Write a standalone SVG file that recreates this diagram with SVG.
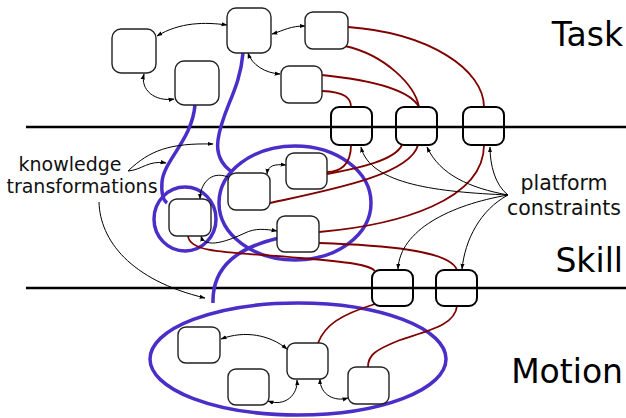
<svg xmlns="http://www.w3.org/2000/svg" width="626" height="418" viewBox="0 0 626 418">
  <defs>
    <marker id="ah" viewBox="0 0 10 10" refX="9" refY="5" markerWidth="6" markerHeight="6" orient="auto-start-reverse" markerUnits="userSpaceOnUse">
      <path d="M0,1.5 L10,5 L0,8.5 Z" fill="#000"/>
    </marker>
  </defs>
  <style>
    .node { fill: #fff; stroke: #222; stroke-width: 1.4; }
    .plat { fill: none; stroke: #000; stroke-width: 2; }
    .level { stroke: #000; stroke-width: 2.5; }
    .dep { fill: none; stroke: #800000; stroke-width: 1.8; }
    .blue { fill: none; stroke: #4b2ec8; stroke-width: 3.5; }
    .link { fill: none; stroke: #000; stroke-width: 1; }
    .both { marker-start: url(#ah); marker-end: url(#ah); }
    .one { marker-end: url(#ah); }
    .lvl { font-family: "DejaVu Sans", sans-serif; font-size: 33px; fill: #000; }
    .note { font-family: "DejaVu Sans", sans-serif; fill: #111; text-anchor: middle; }
  </style>

  <!-- level separators -->
  <g id="levels">
    <line class="level" x1="26" y1="127" x2="626" y2="127"/>
    <line class="level" x1="26" y1="288" x2="626" y2="288"/>
  </g>

  <!-- knowledge transformation regions -->
  <g id="regions">
    <ellipse class="blue" cx="298" cy="359" rx="148" ry="56"/>
    <ellipse class="blue" cx="185" cy="219" rx="31" ry="32"/>
    <ellipse class="blue" cx="295" cy="203" rx="76" ry="57"/>
    <path class="blue" d="M195,105 C192,140 164,160 162,182 C161,195 163,200 167,203"/>
    <path class="blue" d="M243,53 C240,90 222,110 218,140 C216,155 222,165 232,172"/>
    <path class="blue" d="M279,238 C240,247 212,265 213,303"/>
  </g>

  <!-- platform dependencies -->
  <g id="dependencies">
    <path class="dep" d="M348,27 C430,33 484,70 484,107"/>
    <path class="dep" d="M345,46 C385,55 415,85 419,107"/>
    <path class="dep" d="M322,75 C370,80 410,90 419,107"/>
    <path class="dep" d="M322,91 C345,92 351,98 351,107"/>
    <path class="dep" d="M351,145 C351,165 340,172 327,172"/>
    <path class="dep" d="M402,145 C395,160 360,168 327,174"/>
    <path class="dep" d="M418,145 C410,175 330,190 270,203"/>
    <path class="dep" d="M484,145 C484,200 400,225 319,232"/>
    <path class="dep" d="M319,243 C380,245 450,250 457,270"/>
    <path class="dep" d="M188,236 C190,255 240,252 300,258 C350,262 370,265 375,271"/>
    <path class="dep" d="M375,304 C340,315 325,325 318,343"/>
    <path class="dep" d="M457,306 C455,325 430,330 400,340 C375,350 368,355 368,367"/>
  </g>

  <!-- node links and annotation pointers -->
  <g id="connectors">
    <path class="link both" d="M157,36 C180,22 205,22 227,25"/>
    <path class="link both" d="M272,34 C285,30 290,26 305,26"/>
    <path class="link both" d="M144,74 C140,90 155,102 174,99"/>
    <path class="link both" d="M248,53 C252,65 265,73 280,74"/>
    <path class="link both" d="M267,174 C268,165 275,164 286,165"/>
    <path class="link one" d="M228,177 C210,170 200,185 200,199"/>
    <path class="link both" d="M201,236 C205,250 230,240 245,233 C255,228 265,229 277,231"/>
    <path class="link both" d="M221,339 C245,330 270,335 287,349"/>
    <path class="link both" d="M268,401 C285,407 298,395 297,380"/>
    <path class="link both" d="M320,379 C320,395 335,402 348,398"/>

    <path class="link one" d="M128,171 C142,170 148,160 166,163"/>
    <path class="link one" d="M128,171 C150,150 170,143 213,144"/>
    <path class="link one" d="M99,202 C100,240 130,280 205,298"/>

    <path class="link one" d="M508,195 C440,192 370,185 361,147"/>
    <path class="link one" d="M508,195 C470,188 440,175 427,147"/>
    <path class="link one" d="M508,195 C495,185 490,165 490,147"/>
    <path class="link one" d="M508,195 C450,205 400,230 398,269"/>
    <path class="link one" d="M508,195 C480,210 465,240 462,269"/>
  </g>

  <!-- task level nodes -->
  <g id="task-a"><rect class="node" x="112" y="29" width="44" height="44" rx="9"/></g>
  <g id="task-b"><rect class="node" x="227" y="8" width="44" height="45" rx="9"/></g>
  <g id="task-c"><rect class="node" x="305" y="12" width="43" height="37" rx="8"/></g>
  <g id="task-d"><rect class="node" x="175" y="61" width="44" height="44" rx="9"/></g>
  <g id="task-e"><rect class="node" x="281" y="66" width="41" height="37" rx="8"/></g>

  <!-- task platform nodes -->
  <g id="plat-t1"><rect class="plat" x="331" y="107" width="41" height="38" rx="8"/></g>
  <g id="plat-t2"><rect class="plat" x="396" y="107" width="41" height="38" rx="8"/></g>
  <g id="plat-t3"><rect class="plat" x="463" y="107" width="41" height="38" rx="8"/></g>

  <!-- skill level nodes -->
  <g id="skill-a"><rect class="node" x="169" y="199" width="42" height="37" rx="8"/></g>
  <g id="skill-b"><rect class="node" x="228" y="173" width="42" height="37" rx="8"/></g>
  <g id="skill-c"><rect class="node" x="286" y="153" width="41" height="36" rx="8"/></g>
  <g id="skill-d"><rect class="node" x="277" y="216" width="42" height="36" rx="8"/></g>

  <!-- skill platform nodes -->
  <g id="plat-s1"><rect class="plat" x="372" y="270" width="41" height="36" rx="8"/></g>
  <g id="plat-s2"><rect class="plat" x="436" y="270" width="41" height="36" rx="8"/></g>

  <!-- motion level nodes -->
  <g id="motion-a"><rect class="node" x="178" y="327" width="42" height="36" rx="8"/></g>
  <g id="motion-b"><rect class="node" x="287" y="343" width="41" height="36" rx="8"/></g>
  <g id="motion-c"><rect class="node" x="228" y="369" width="41" height="36" rx="8"/></g>
  <g id="motion-d"><rect class="node" x="348" y="367" width="41" height="37" rx="8"/></g>

  <!-- labels -->
  <g id="labels">
    <text class="lvl" x="623" y="46" text-anchor="end">Task</text>
    <text class="lvl" x="623" y="272" text-anchor="end">Skill</text>
    <text class="lvl" x="623" y="383" text-anchor="end">Motion</text>
    <text class="note" x="70" y="171" font-size="19">knowledge</text>
    <text class="note" x="82" y="193" font-size="19">transformations</text>
    <text class="note" x="564" y="190" font-size="20.5">platform</text>
    <text class="note" x="564" y="215" font-size="20.5">constraints</text>
  </g>
</svg>
